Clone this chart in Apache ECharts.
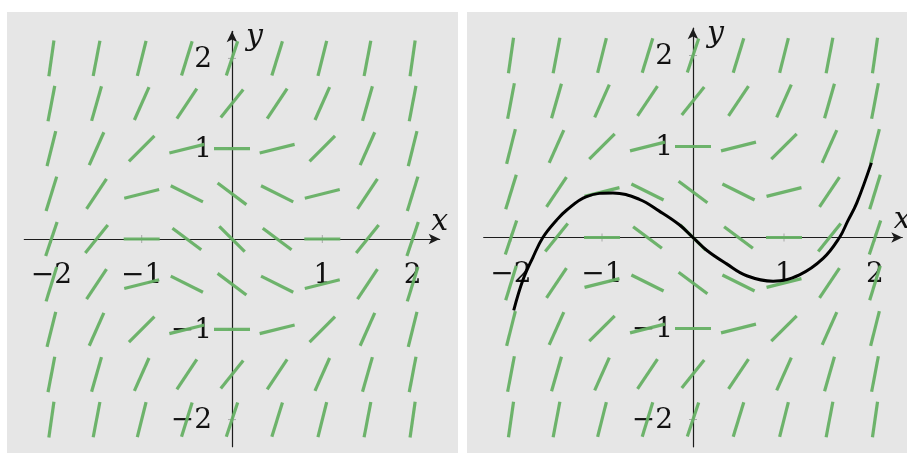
<!DOCTYPE html>
<html>
<head>
<meta charset="utf-8">
<script src="https://cdn.jsdelivr.net/npm/echarts@6/dist/echarts.min.js"></script>
<style>
  html, body { margin: 0; padding: 0; background: #ffffff; }
  #chart { width: 907px; height: 453px; }
</style>
</head>
<body>
<div id="chart"></div>
<script>
// Slope field for dy/dx on a 9 x 9 lattice, rows listed from top (y = 2) to bottom (y = -2)
const gridX = [-2, -1.5, -1, -0.5, 0, 0.5, 1, 1.5, 2];
const gridY = [2, 1.5, 1, 0.5, 0, -0.5, -1, -1.5, -2];
const slopeRows = [
  [7,    5.25, 4,    3.25,  3,     3.25,  4,    5.25, 7],
  [5.25, 3.5,  2.25, 1.5,   1.25,  1.5,   2.25, 3.5,  5.25],
  [4,    2.25, 1,    0.25,  0,     0.25,  1,    2.25, 4],
  [3.25, 1.5,  0.25, -0.5,  -0.75, -0.5,  0.25, 1.5,  3.25],
  [3,    1.25, 0,    -0.75, -1,    -0.75, 0,    1.25, 3],
  [3.25, 1.5,  0.25, -0.5,  -0.75, -0.5,  0.25, 1.5,  3.25],
  [4,    2.25, 1,    0.25,  0,     0.25,  1,    2.25, 4],
  [5.25, 3.5,  2.25, 1.5,   1.25,  1.5,   2.25, 3.5,  5.25],
  [7,    5.25, 4,    3.25,  3,     3.25,  4,    5.25, 7]
];

// Solution curve through the origin (right panel)
const curveX = [-1.97, -1.87, -1.76, -1.65, -1.50, -1.39, -1.17, -0.88, -0.59, -0.37, -0.15, 0,
                 0.15, 0.37, 0.59, 0.88, 1.17, 1.43, 1.61, 1.70, 1.80, 1.96];
const curveY = [-0.80, -0.47, -0.22, 0.00, 0.19, 0.30, 0.45, 0.49, 0.42, 0.29, 0.14, 0,
                -0.14, -0.29, -0.42, -0.48, -0.41, -0.23, 0.00, 0.18, 0.38, 0.82];

// Labelled tick positions on both axes
const tickValues = [-2, -1, 1, 2];

const fieldData = [];
gridY.forEach((y, r) => gridX.forEach((x, c) => fieldData.push([x, y, slopeRows[r][c]])));
const curveData = curveX.map((x, i) => [x, curveY[i]]);
// [x, y, 0 = tick on x axis | 1 = tick on y axis]
const tickData = tickValues.map(v => [v, 0, 0]).concat(tickValues.map(v => [0, v, 1]));

const SERIF = 'DejaVu Serif';
const fmt = v => (v < 0 ? '\u2212' + Math.abs(v) : String(v));

function renderSegment(params, api) {
  const c = api.coord([api.value(0), api.value(1)]);
  const a = Math.atan(api.value(2));
  const h = 18;
  const dx = h * Math.cos(a), dy = h * Math.sin(a);
  return {
    type: 'line',
    shape: { x1: c[0] - dx, y1: c[1] + dy, x2: c[0] + dx, y2: c[1] - dy },
    style: { stroke: '#66b064', lineWidth: 3.2, lineCap: 'butt', opacity: 0.95 }
  };
}

// Small cross ticks plus the number beside each one
function renderTick(params, api) {
  const v0 = api.value(0), v1 = api.value(1);
  const c = api.coord([v0, v1]);
  const onX = api.value(2) === 0;
  const s = 4;
  return {
    type: 'group',
    children: [
      {
        type: 'line',
        shape: onX
          ? { x1: c[0], y1: c[1] - s, x2: c[0], y2: c[1] + s }
          : { x1: c[0] - s, y1: c[1], x2: c[0] + s, y2: c[1] },
        style: { stroke: '#a8a8a8', lineWidth: 1 }
      },
      {
        type: 'text',
        x: onX ? c[0] : c[0] - 20,
        y: onX ? c[1] + 37 : c[1] + 1,
        style: {
          text: fmt(onX ? v0 : v1),
          fontFamily: SERIF, fontSize: 28, fill: '#111',
          align: onX ? 'center' : 'right', verticalAlign: 'middle'
        }
      }
    ]
  };
}

const nameStyle = { fontFamily: SERIF, fontStyle: 'italic', fontSize: 30, color: '#111' };

function makeX(i) {
  return {
    type: 'value', gridIndex: i, min: -2.3, max: 2.3,
    splitLine: { show: false },
    axisTick: { show: false },
    axisLabel: { show: false },
    axisLine: { onZero: true, symbol: ['none', 'arrow'], symbolSize: [8, 11],
                lineStyle: { color: '#1c1c1c', width: 1.2 } },
    name: 'x', nameLocation: 'end', nameGap: 0,
    nameTextStyle: Object.assign({ align: 'center', verticalAlign: 'bottom', padding: [0, 0, 2, 0] }, nameStyle)
  };
}
function makeY(i) {
  return {
    type: 'value', gridIndex: i, min: -2.3, max: 2.3,
    splitLine: { show: false },
    axisTick: { show: false },
    axisLabel: { show: false },
    axisLine: { onZero: true, symbol: ['none', 'arrow'], symbolSize: [8, 11],
                lineStyle: { color: '#1c1c1c', width: 1.2 } },
    name: 'y', nameLocation: 'end', nameGap: -6,
    nameTextStyle: Object.assign({ align: 'left', verticalAlign: 'middle', padding: [0, 0, 30, 14] }, nameStyle)
  };
}

const chart = echarts.init(document.getElementById('chart'), null, { renderer: 'canvas' });
chart.setOption({
  backgroundColor: '#ffffff',
  animation: false,
  graphic: [
    { type: 'rect', z: -10, shape: { x: 7, y: 12, width: 451, height: 441 }, style: { fill: '#e6e6e6' } },
    { type: 'rect', z: -10, shape: { x: 467, y: 12, width: 440, height: 441 }, style: { fill: '#e6e6e6' } }
  ],
  grid: [
    { left: 24.3, top: 31.3, width: 415.4, height: 415.4, containLabel: false, outerBoundsMode: 'none' },
    { left: 483.7, top: 28.2, width: 418.6, height: 418.6, containLabel: false, outerBoundsMode: 'none' }
  ],
  xAxis: [makeX(0), makeX(1)],
  yAxis: [makeY(0), makeY(1)],
  series: [
    { type: 'custom', name: 'ticks', xAxisIndex: 0, yAxisIndex: 0, data: tickData, renderItem: renderTick, z: 1, silent: true, clip: false },
    { type: 'custom', name: 'ticks', xAxisIndex: 1, yAxisIndex: 1, data: tickData, renderItem: renderTick, z: 1, silent: true, clip: false },
    { type: 'custom', name: 'field', xAxisIndex: 0, yAxisIndex: 0, data: fieldData, renderItem: renderSegment, z: 3, silent: true },
    { type: 'custom', name: 'field', xAxisIndex: 1, yAxisIndex: 1, data: fieldData, renderItem: renderSegment, z: 3, silent: true },
    { type: 'line', name: 'solution', xAxisIndex: 1, yAxisIndex: 1, data: curveData, smooth: 0.4,
      showSymbol: false, z: 5, lineStyle: { color: '#000000', width: 3 } }
  ]
});
</script>
</body>
</html>
